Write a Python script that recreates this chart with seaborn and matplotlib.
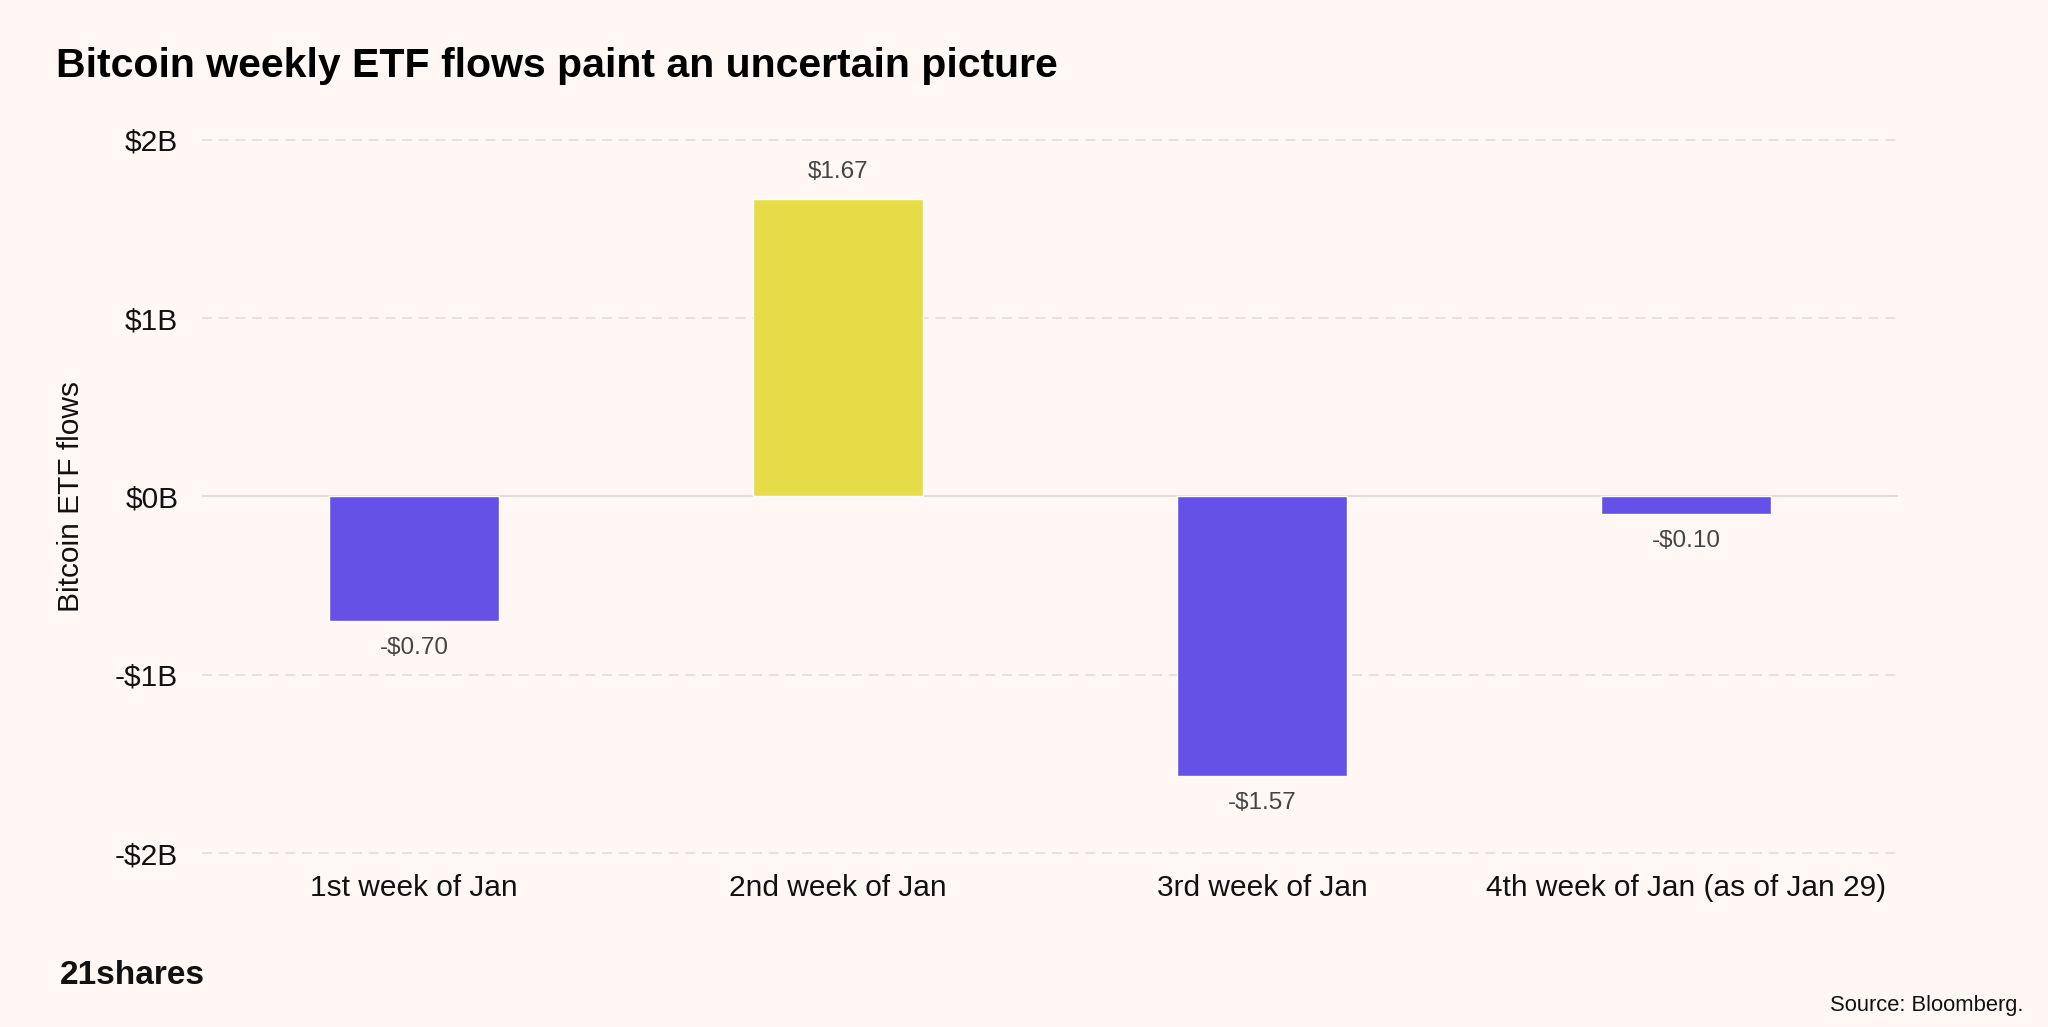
import matplotlib
matplotlib.use("Agg")
import matplotlib.pyplot as plt
import seaborn as sns
import pandas as pd

# Chart data
weeks = ["1st week of Jan", "2nd week of Jan", "3rd week of Jan", "4th week of Jan (as of Jan 29)"]
flows = [-0.70, 1.67, -1.57, -0.10]
yTicks = [-2, -1, 0, 1, 2]
yTickLabels = ["-$2B", "-$1B", "$0B", "$1B", "$2B"]

bg = "#FEF7F4"
purple = "#6551E6"
yellow = "#E5DC48"

df = pd.DataFrame({"week": weeks, "flow": flows})
barColors = [yellow if v > 0 else purple for v in flows]

sns.set_theme(style="white")
plt.rcParams["font.family"] = ["Liberation Sans", "DejaVu Sans"]

fig = plt.figure(figsize=(20.48, 10.27), dpi=100, facecolor=bg)
ax = fig.add_axes([0.0986, 0.1607, 0.8282, 0.7118])
ax.set_facecolor(bg)

sns.barplot(data=df, x="week", y="flow", hue="week", palette=barColors,
            legend=False, width=0.40, saturation=1, ax=ax, zorder=3)

ax.set_xlim(-0.5, 3.5)
ax.set_ylim(-2.05, 2.05)

# gridlines
for t in yTicks:
    if t == 0:
        ax.axhline(0, color="#DCDCDC", lw=1.3, zorder=2)
    else:
        ax.axhline(t, color="#DEDEDE", lw=1.2, ls=(0, (6, 4)), zorder=1)

ax.set_yticks(yTicks)
ax.set_yticklabels(yTickLabels)
ax.tick_params(axis="y", length=0, pad=17, labelsize=21.5, labelcolor="#111111")
ax.tick_params(axis="x", length=0, pad=9, labelsize=21.5, labelcolor="#111111")
ax.set_xlabel("")
ax.set_ylabel("Bitcoin ETF flows", fontsize=21.5, color="#111111", labelpad=21.5)
for s in ax.spines.values():
    s.set_visible(False)

# value labels
for i, v in enumerate(flows):
    txt = f"${v:.2f}" if v >= 0 else f"-${abs(v):.2f}"
    off = 0.15 if v >= 0 else -0.15
    ax.text(i, v + off, txt, ha="center", va="center", fontsize=17.5, color="#444444")

fig.text(0.0275, 0.936, "Bitcoin weekly ETF flows paint an uncertain picture",
         fontsize=29.5, fontweight="bold", color="#000000", va="center", ha="left")
fig.text(0.029, 0.0506, "21shares", fontsize=24, fontweight="bold", color="#111111",
         va="center", ha="left")
fig.text(0.988, 0.021, "Source: Bloomberg.", fontsize=15.8, color="#111111",
         va="center", ha="right")

fig.savefig("out.png", dpi=100, facecolor=bg)
